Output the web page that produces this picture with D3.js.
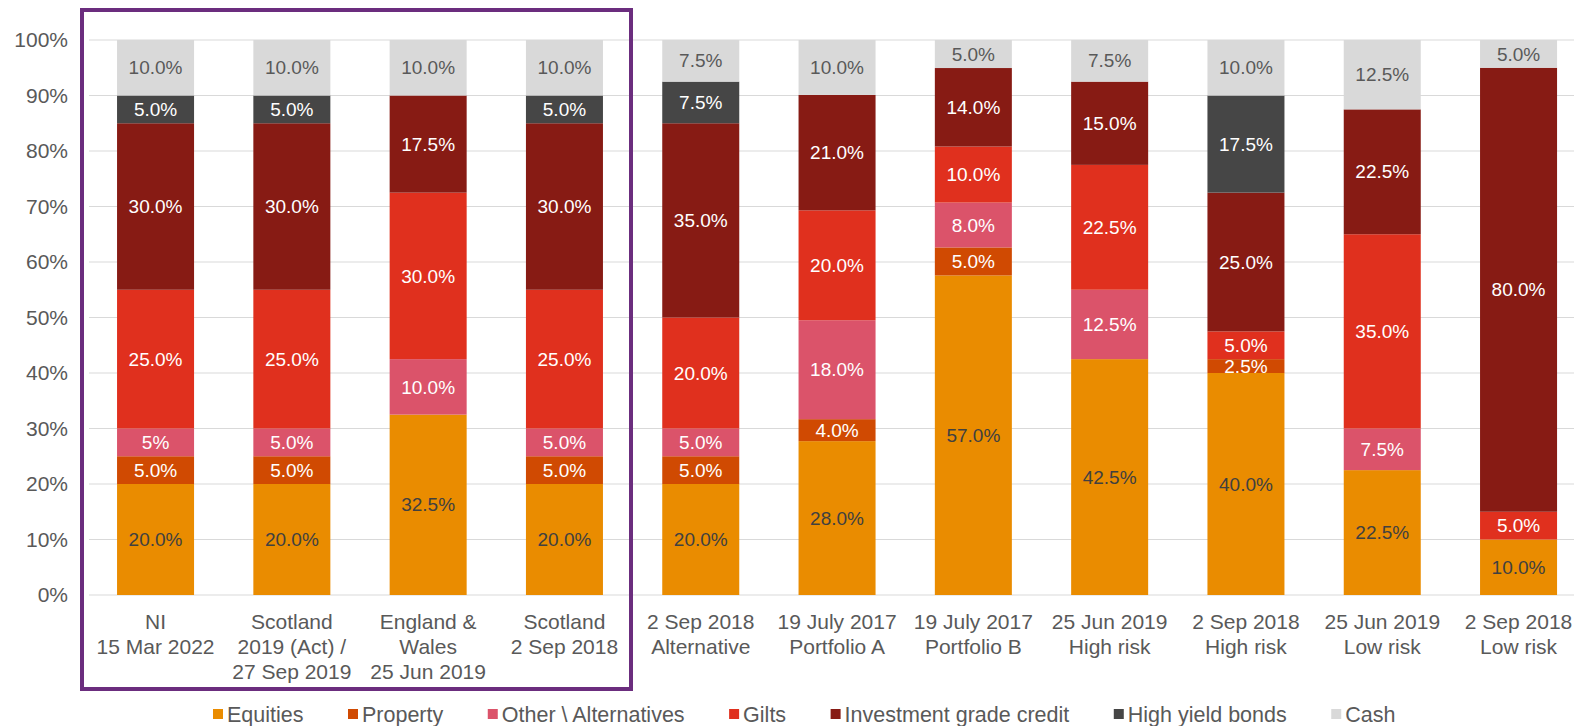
<!DOCTYPE html>
<html>
<head>
<meta charset="utf-8">
<script src="https://cdn.jsdelivr.net/npm/d3@7"></script>
<style>
  body { margin: 0; background: #fff; }
  text { font-family: "Liberation Sans", Arial, sans-serif; }
</style>
</head>
<body>
<svg id="chart" width="1574" height="726"></svg>
<script>
// categories (label lines)
var categories = [
  ["NI", "15 Mar 2022"],
  ["Scotland", "2019 (Act) /", "27 Sep 2019"],
  ["England &", "Wales", "25 Jun 2019"],
  ["Scotland", "2 Sep 2018"],
  ["2 Sep 2018", "Alternative"],
  ["19 July 2017", "Portfolio A"],
  ["19 July 2017", "Portfolio B"],
  ["25 Jun 2019", "High risk"],
  ["2 Sep 2018", "High risk"],
  ["25 Jun 2019", "Low risk"],
  ["2 Sep 2018", "Low risk"]
];

// series values (%), one per category
var equities    = [20, 20, 32.5, 20, 20, 28, 57, 42.5, 40, 22.5, 10];
var property    = [5, 5, 0, 5, 5, 4, 5, 0, 2.5, 0, 0];
var alternatives= [5, 5, 10, 5, 5, 18, 8, 12.5, 0, 7.5, 0];
var gilts       = [25, 25, 30, 25, 20, 20, 10, 22.5, 5, 35, 5];
var igCredit    = [30, 30, 17.5, 30, 35, 21, 14, 15, 25, 22.5, 80];
var highYield   = [5, 5, 0, 5, 7.5, 0, 0, 0, 17.5, 0, 0];
var cash        = [10, 10, 10, 10, 7.5, 10, 5, 7.5, 10, 12.5, 5];

var seriesNames = ["Equities", "Property", "Other \\ Alternatives", "Gilts",
                   "Investment grade credit", "High yield bonds", "Cash"];
var seriesValues = [equities, property, alternatives, gilts, igCredit, highYield, cash];
var seriesColors = ["#EA8C00", "#D04A02", "#DB536A", "#E0301E", "#871B14", "#464646", "#D9D9D9"];
var labelColors  = ["#404040", "#fff", "#fff", "#fff", "#fff", "#fff", "#595959"];

// one label is written differently in the source
var labelOverrides = { "0-2": "5%" };

var yTicks = [0, 0.1, 0.2, 0.3, 0.4, 0.5, 0.6, 0.7, 0.8, 0.9, 1];

var svg = d3.select("#chart");
var W = 1574;

// build rows for the stack
var keys = seriesNames.map(function(d, i) { return "s" + i; });
var rows = categories.map(function(c, i) {
  var r = { idx: i };
  keys.forEach(function(k, j) { r[k] = seriesValues[j][i]; });
  return r;
});

// 100% stacked (some columns do not add up to exactly 100)
var stack = d3.stack().keys(keys).offset(d3.stackOffsetExpand);
var layers = stack(rows);

var x = d3.scaleBand()
  .domain(d3.range(categories.length))
  .range([87.4, 87.4 + 136.3 * categories.length])
  .paddingInner(0.435)
  .paddingOuter(0.2175);

var y = d3.scaleLinear().domain([0, 1]).range([595, 40]);

// gridlines
svg.append("g")
  .selectAll("line")
  .data(yTicks)
  .enter().append("line")
    .attr("x1", 89).attr("x2", W)
    .attr("y1", function(d) { return y(d); })
    .attr("y2", function(d) { return y(d); })
    .attr("stroke", "#D9D9D9")
    .attr("stroke-width", 1.2);

// y axis labels
var yAxis = d3.axisLeft(y).tickValues(yTicks).tickFormat(d3.format(".0%")).tickSize(0).tickPadding(0);
var ya = svg.append("g").attr("transform", "translate(68,0)").call(yAxis);
ya.select(".domain").remove();
ya.selectAll("text").attr("font-size", 21).attr("fill", "#595959")
  .style("font-family", '"Liberation Sans", Arial, sans-serif');

// bars
var layerG = svg.append("g").selectAll("g")
  .data(layers)
  .enter().append("g")
    .attr("fill", function(d, i) { return seriesColors[i]; });

layerG.selectAll("rect")
  .data(function(d) { return d; })
  .enter().append("rect")
    .attr("x", function(d) { return x(d.data.idx); })
    .attr("width", x.bandwidth())
    .attr("y", function(d) { return y(d[1]); })
    .attr("height", function(d) { return y(d[0]) - y(d[1]); });

// data labels
layers.forEach(function(layer, si) {
  svg.append("g").selectAll("text")
    .data(layer.filter(function(d) { return seriesValues[si][d.data.idx] > 0; }))
    .enter().append("text")
      .attr("x", function(d) { return x(d.data.idx) + x.bandwidth() / 2; })
      .attr("y", function(d) { return (y(d[0]) + y(d[1])) / 2; })
      .attr("dy", "0.35em")
      .attr("text-anchor", "middle")
      .attr("font-size", 19)
      .attr("fill", labelColors[si])
      .text(function(d) {
        var o = labelOverrides[d.data.idx + "-" + si];
        return o ? o : seriesValues[si][d.data.idx].toFixed(1) + "%";
      });
});

// category labels
var catG = svg.append("g").selectAll("text")
  .data(categories)
  .enter().append("text")
    .attr("text-anchor", "middle")
    .attr("font-size", 21)
    .attr("fill", "#595959")
    .attr("transform", function(d, i) {
      return "translate(" + (x(i) + x.bandwidth() / 2) + ",0)";
    });
catG.selectAll("tspan")
  .data(function(d) { return d; })
  .enter().append("tspan")
    .attr("x", 0)
    .attr("y", function(d, i) { return 629 + i * 25; })
    .text(function(d) { return d; });

// highlight box round the first four
svg.append("rect")
  .attr("x", 82).attr("y", 10)
  .attr("width", 549).attr("height", 679)
  .attr("fill", "none")
  .attr("stroke", "#6B2D7E")
  .attr("stroke-width", 4);

// legend
var legend = svg.append("g").attr("transform", "translate(213,714)");
var lx = 0;
seriesNames.forEach(function(name, i) {
  legend.append("rect")
    .attr("x", lx).attr("y", -5)
    .attr("width", 10).attr("height", 10)
    .attr("fill", seriesColors[i]);
  var t = legend.append("text")
    .attr("x", lx + 14)
    .attr("dy", "0.36em")
    .attr("font-size", 21.5)
    .attr("fill", "#595959")
    .text(name);
  lx += 14 + t.node().getComputedTextLength() + 44.5;
});
</script>
</body>
</html>
